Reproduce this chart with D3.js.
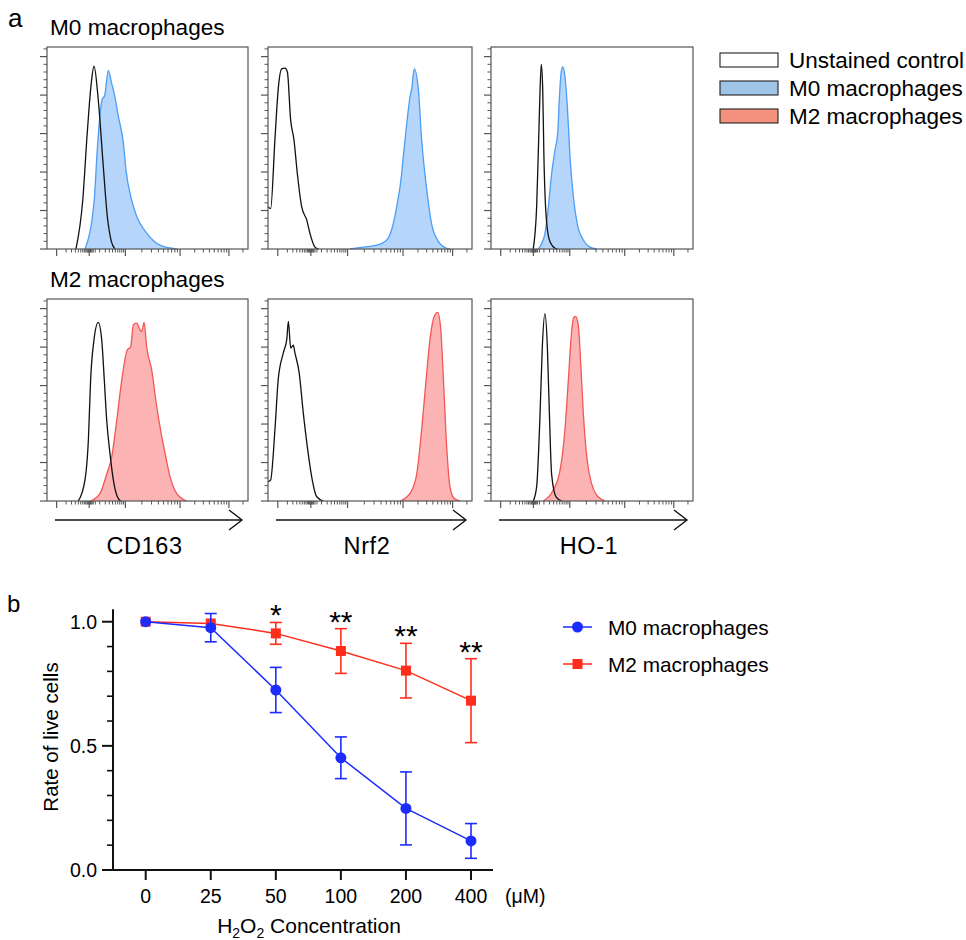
<!DOCTYPE html>
<html>
<head>
<meta charset="utf-8">
<script src="https://cdn.jsdelivr.net/npm/d3@7"></script>
<style>
  html, body { margin: 0; padding: 0; background: #fff; }
  svg { display: block; font-family: "Liberation Sans", Arial, Helvetica, sans-serif; }
</style>
</head>
<body>
<svg id="fig" width="966" height="940"></svg>
<script>
// ---------- Panel a: flow cytometry histograms (channel 0–1000, % of max) ----------
const markers = ["CD163", "Nrf2", "HO-1"];
const rowTitles = ["M0 macrophages", "M2 macrophages"];
const legendA = ["Unstained control", "M0 macrophages", "M2 macrophages"];

// unstained controls, top row (M0)
const ctrlM0CD163 = [[144,0],[178,25.5],[200,60],[220,86],[234,95],[255,77.6],[280,43],[300,17],[320,4],[338,0]];
const ctrlM0Nrf2  = [[0,22],[13,21],[34,57],[50,83],[67,93.6],[83,94],[95,92],[111,67],[127,57],[144,39],[165,22],[190,15],[206,8],[230,1],[247,0]];
const ctrlM0HO1   = [[209,0],[226,22],[236,57],[243,83],[249,96],[256,83],[262,48],[272,18.6],[289,4.7],[317,0.4],[329,0]];
// stained M0
const m0CD163 = [[189,0],[235,25.5],[250,51.6],[274,77.6],[287,79.8],[305,92.9],[322,86],[338,79],[355,69],[380,55],[393,41],[421,25.5],[446,17],[496,8.2],[562,2],[645,0]];
const m0Nrf2  = [[402,0],[467,1],[533,2],[582,4.7],[606,10],[631,22],[655,39],[663,48],[680,65],[696,79],[704,83],[717,93.6],[737,83],[753,57],[778,31],[802,13],[835,4],[876,0.4],[892,0]];
const m0HO1   = [[234,0],[267,8],[284,22],[300,39],[317,51.6],[330,60],[338,77.6],[347,91.5],[355,94.6],[366,89.8],[378,74],[391,48],[408,27],[427,13],[457,4.7],[490,1],[523,0]];
// unstained controls, bottom row (M2)
const ctrlM2CD163 = [[156,0],[189,11],[206,32],[217,63],[234,84],[255,92.9],[272,84],[285,63],[297,42],[313,25],[330,11],[350,2.2],[367,0]];
const ctrlM2Nrf2  = [[0,10],[13,11],[34,37],[50,63],[75,77],[92,84],[100,93.4],[111,79.5],[124,81],[132,77],[153,66.5],[173,45.7],[193,28],[214,12.7],[239,2.2],[271,0]];
const ctrlM2HO1   = [[209,0],[226,7.5],[243,45.7],[254,80],[267,97.4],[279,80],[289,45.7],[300,14],[322,2.2],[350,0]];
// stained M2
const m2CD163 = [[217,0],[264,4],[297,14],[322,23],[347,42],[372,63],[400,78.6],[416,80],[430,91.7],[446,92.5],[463,89],[471,88],[483,92.9],[496,80],[521,68],[546,49],[571,33.5],[587,25],[612,12.7],[645,4],[695,0]];
const m2Nrf2  = [[647,0],[696,4],[729,14],[753,37],[775,63],[794,84],[815,96],[832,98],[847,89],[860,63],[876,28],[892,7.5],[912,1.4],[941,0]];
const m2HO1   = [[259,0],[308,5.7],[342,16],[366,37],[383,63],[396,84],[408,95],[418,96],[432,91.7],[444,71.7],[457,45.7],[474,23],[498,9],[523,3],[564,0]];

const ctrlCurves = [[ctrlM0CD163, ctrlM0Nrf2, ctrlM0HO1], [ctrlM2CD163, ctrlM2Nrf2, ctrlM2HO1]];
const stainCurves = [[m0CD163, m0Nrf2, m0HO1], [m2CD163, m2Nrf2, m2HO1]];

// tick positions along the biexponential channel axis
const flowMajorX = [48, 210, 390, 662, 905];
const flowMinorX = [95, 122, 141, 156, 168, 178, 186, 193, 199, 203, 206, 213, 216, 220, 224, 230, 240, 262, 290, 310, 326, 340, 352, 362, 372, 381,
                    472, 520, 554, 580, 602, 620, 636, 649, 735, 778, 808, 832, 851, 867, 881, 894, 975];
const flowMajorY = [0, 20, 40, 60, 80, 100];
const flowMinorY = d3.range(0, 105, 4).filter(v => v % 20 !== 0);

// ---------- Panel b: viability after H2O2 ----------
const doses = ["0", "25", "50", "100", "200", "400"];
const m0Rate = [1.0, 0.976, 0.725, 0.452, 0.248, 0.117];
const m0Err  = [0, 0.057, 0.091, 0.084, 0.147, 0.070];
const m2Rate = [1.0, 0.993, 0.953, 0.882, 0.803, 0.682];
const m2Err  = [0, 0, 0.044, 0.090, 0.110, 0.169];
const stars  = ["", "", "*", "**", "**", "**"];
const yTicksB = [0, 0.5, 1.0];
const yMinorB = [0.1, 0.2, 0.3, 0.4, 0.6, 0.7, 0.8, 0.9];
const seriesB = ["M0 macrophages", "M2 macrophages"];

const svg = d3.select("#fig");

const BLUE_FILL = "#b5d6fa", BLUE_LINE = "#4d9df5";
const RED_FILL = "#fbb3b3", RED_LINE = "#f45656";
const FRAME = "#555";

svg.append("text").attr("x", 8).attr("y", 27).attr("font-size", 26).text("a");
svg.append("text").attr("x", 7).attr("y", 612).attr("font-size", 24).text("b");

const lefts = [47, 268, 491];
const widths = [201, 204, 202];
const tops = [47, 299];
const H = 202;

rowTitles.forEach((t, r) => {
  svg.append("text").attr("x", 50).attr("y", tops[r] - 12).attr("font-size", 22.6).text(t);
});

for (let r = 0; r < 2; r++) {
  for (let c = 0; c < 3; c++) {
    const x = d3.scaleLinear().domain([0, 1000]).range([lefts[c], lefts[c] + widths[c]]);
    const y = d3.scaleLinear().domain([0, 105]).range([tops[r] + H, tops[r]]);
    const g = svg.append("g");

    const area = d3.area().x(d => x(d[0])).y0(y(0)).y1(d => y(d[1])).curve(d3.curveMonotoneX);
    const line = d3.line().x(d => x(d[0])).y(d => y(d[1])).curve(d3.curveMonotoneX);

    const fill = r === 0 ? BLUE_FILL : RED_FILL;
    const stroke = r === 0 ? BLUE_LINE : RED_LINE;
    g.append("path").datum(stainCurves[r][c]).attr("d", area).attr("fill", fill);
    g.append("path").datum(stainCurves[r][c]).attr("d", line).attr("fill", "none")
      .attr("stroke", stroke).attr("stroke-width", 1.3);
    g.append("path").datum(ctrlCurves[r][c]).attr("d", line).attr("fill", "none")
      .attr("stroke", "#111").attr("stroke-width", 1.3);

    // frame
    g.append("rect").attr("x", lefts[c]).attr("y", tops[r]).attr("width", widths[c]).attr("height", H)
      .attr("fill", "none").attr("stroke", FRAME).attr("stroke-width", 1.2);

    // y ticks
    g.selectAll(".ymaj").data(flowMajorY).join("line")
      .attr("x1", lefts[c] - 7).attr("x2", lefts[c]).attr("y1", d => y(d)).attr("y2", d => y(d))
      .attr("stroke", FRAME).attr("stroke-width", 1.2);
    g.selectAll(".ymin").data(flowMinorY).join("line")
      .attr("x1", lefts[c] - 3.5).attr("x2", lefts[c]).attr("y1", d => y(d)).attr("y2", d => y(d))
      .attr("stroke", FRAME).attr("stroke-width", 1);
    // x ticks
    const yb = tops[r] + H;
    g.selectAll(".xmaj").data(flowMajorX).join("line")
      .attr("x1", d => x(d)).attr("x2", d => x(d)).attr("y1", yb).attr("y2", yb + 7)
      .attr("stroke", FRAME).attr("stroke-width", 1.2);
    g.selectAll(".xmin").data(flowMinorX).join("line")
      .attr("x1", d => x(d)).attr("x2", d => x(d)).attr("y1", yb).attr("y2", yb + 3.5)
      .attr("stroke", FRAME).attr("stroke-width", 1);

    if (r === 1) {
      const ay = yb + 19;
      const x0 = lefts[c] + 8, x1 = lefts[c] + widths[c] - 6;
      g.append("line").attr("x1", x0).attr("x2", x1).attr("y1", ay).attr("y2", ay)
        .attr("stroke", "#111").attr("stroke-width", 1.4);
      g.append("path").attr("d", `M${x1 - 13},${ay - 10}L${x1},${ay}L${x1 - 13},${ay + 10}`)
        .attr("fill", "none").attr("stroke", "#111").attr("stroke-width", 1.4);
      g.append("text").attr("x", lefts[c] + widths[c] / 2 - 3).attr("y", yb + 53)
        .attr("text-anchor", "middle").attr("font-size", 23.5).attr("letter-spacing", 0.6)
        .text(markers[c]);
    }
  }
}

// legend for panel a
const legFills = ["#ffffff", "#9fc4e8", "#f4917c"];
legendA.forEach((t, i) => {
  svg.append("rect").attr("x", 720).attr("y", 53 + i * 28).attr("width", 58).attr("height", 14)
    .attr("fill", legFills[i]).attr("stroke", "#222").attr("stroke-width", 1.1);
  svg.append("text").attr("x", 789).attr("y", 68 + i * 28).attr("font-size", 22.5).text(t);
});

// ---------- Panel b ----------
const BL = "#1c2cff", RD = "#ff2d1c";
const xb = d3.scalePoint().domain(doses).range([145.7, 471]);
const yb = d3.scaleLinear().domain([0, 1.05]).range([870, 609.3]);
const gb = svg.append("g");

// axes
gb.append("line").attr("x1", 113).attr("x2", 113).attr("y1", yb(1.05)).attr("y2", 871)
  .attr("stroke", "#111").attr("stroke-width", 2);
gb.append("line").attr("x1", 112).attr("x2", 493).attr("y1", 870).attr("y2", 870)
  .attr("stroke", "#111").attr("stroke-width", 2);
gb.selectAll(".ytm").data(yTicksB).join("line")
  .attr("x1", 102).attr("x2", 113).attr("y1", d => yb(d)).attr("y2", d => yb(d))
  .attr("stroke", "#111").attr("stroke-width", 2);
gb.selectAll(".ytn").data(yMinorB).join("line")
  .attr("x1", 107).attr("x2", 113).attr("y1", d => yb(d)).attr("y2", d => yb(d))
  .attr("stroke", "#111").attr("stroke-width", 1.6);
gb.selectAll(".ytl").data(yTicksB).join("text")
  .attr("x", 97).attr("y", d => yb(d) + 7).attr("text-anchor", "end").attr("font-size", 19.5)
  .text(d => d.toFixed(1));
gb.selectAll(".xtm").data(doses).join("line")
  .attr("x1", d => xb(d)).attr("x2", d => xb(d)).attr("y1", 870).attr("y2", 880)
  .attr("stroke", "#111").attr("stroke-width", 2);
gb.selectAll(".xtl").data(doses).join("text")
  .attr("x", d => xb(d)).attr("y", 903).attr("text-anchor", "middle").attr("font-size", 19.5)
  .text(d => d);
gb.append("text").attr("x", 505).attr("y", 903).attr("font-size", 19.5).text("(μM)");

gb.append("text").attr("transform", "translate(58,737) rotate(-90)").attr("text-anchor", "middle")
  .attr("font-size", 20.5).text("Rate of live cells");
const xl = gb.append("text").attr("x", 309).attr("y", 933).attr("text-anchor", "middle").attr("font-size", 21);
xl.append("tspan").text("H");
xl.append("tspan").attr("font-size", 14).attr("dy", 5).text("2");
xl.append("tspan").attr("dy", -5).text("O");
xl.append("tspan").attr("font-size", 14).attr("dy", 5).text("2");
xl.append("tspan").attr("dy", -5).text(" Concentration");

function drawSeries(vals, errs, color, shape) {
  const pts = doses.map((d, i) => ({ d, v: vals[i], e: errs[i] }));
  const g = gb.append("g");
  g.append("path").datum(pts)
    .attr("d", d3.line().x(p => xb(p.d)).y(p => yb(p.v)))
    .attr("fill", "none").attr("stroke", color).attr("stroke-width", 1.5);
  const eb = g.selectAll(".eb").data(pts.filter(p => p.e > 0)).join("g");
  eb.append("line").attr("x1", p => xb(p.d)).attr("x2", p => xb(p.d))
    .attr("y1", p => yb(p.v + p.e)).attr("y2", p => yb(p.v - p.e))
    .attr("stroke", color).attr("stroke-width", 1.6);
  [1, -1].forEach(s => {
    eb.append("line").attr("x1", p => xb(p.d) - 6).attr("x2", p => xb(p.d) + 6)
      .attr("y1", p => yb(p.v + s * p.e)).attr("y2", p => yb(p.v + s * p.e))
      .attr("stroke", color).attr("stroke-width", 1.6);
  });
  if (shape === "circle") {
    g.selectAll(".mk").data(pts).join("circle")
      .attr("cx", p => xb(p.d)).attr("cy", p => yb(p.v)).attr("r", 5.5).attr("fill", color);
  } else {
    g.selectAll(".mk").data(pts).join("rect")
      .attr("x", p => xb(p.d) - 5).attr("y", p => yb(p.v) - 5).attr("width", 10).attr("height", 10)
      .attr("fill", color);
  }
}
drawSeries(m2Rate, m2Err, RD, "square");
drawSeries(m0Rate, m0Err, BL, "circle");

// significance marks above the M2 error bars
gb.selectAll(".star").data(doses.map((d, i) => ({ d, s: stars[i], top: m2Rate[i] + m2Err[i] })).filter(p => p.s))
  .join("text").attr("x", p => xb(p.d)).attr("y", p => yb(p.top) + 3)
  .attr("text-anchor", "middle").attr("font-size", 30).text(p => p.s);

// legend for panel b
seriesB.forEach((t, i) => {
  const ly = 627 + i * 37;
  const col = i === 0 ? BL : RD;
  gb.append("line").attr("x1", 563).attr("x2", 592).attr("y1", ly).attr("y2", ly)
    .attr("stroke", col).attr("stroke-width", 1.5);
  if (i === 0) gb.append("circle").attr("cx", 577.5).attr("cy", ly).attr("r", 5.5).attr("fill", col);
  else gb.append("rect").attr("x", 572.5).attr("y", ly - 5).attr("width", 10).attr("height", 10).attr("fill", col);
  gb.append("text").attr("x", 608).attr("y", ly + 7.5).attr("font-size", 20.8).text(t);
});
</script>
</body>
</html>
